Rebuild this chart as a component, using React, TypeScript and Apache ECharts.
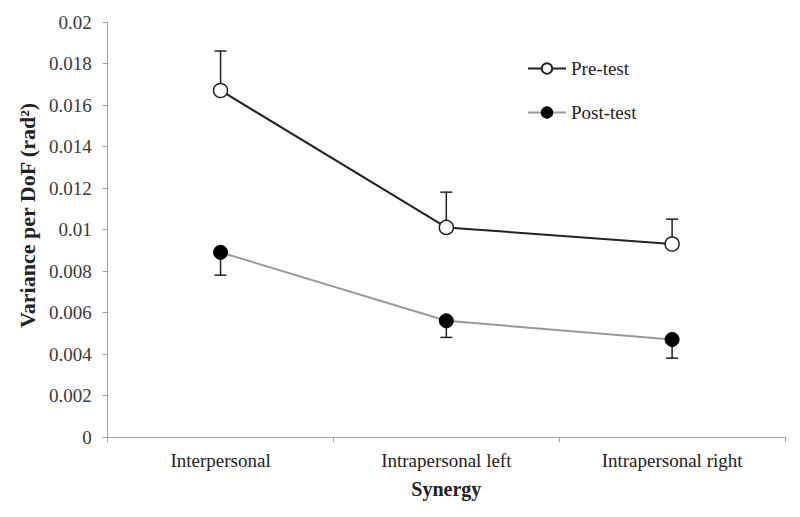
import React, { useEffect, useRef } from "react";
import * as echarts from "echarts";

const categories = ["Interpersonal", "Intrapersonal left", "Intrapersonal right"];
const preTest = [0.0167, 0.0101, 0.0093];
const preTestErrTop = [0.0186, 0.0118, 0.0105];
const postTest = [0.0089, 0.0056, 0.0047];
const postTestErrBottom = [0.0078, 0.0048, 0.0038];

const FONT = "Liberation Serif";

function errorRender(params: any, api: any) {
  const x = api.value(0);
  const from = api.value(1);
  const to = api.value(2);
  const p1 = api.coord([x, from]);
  const p2 = api.coord([x, to]);
  const half = 6;
  const style = { stroke: "#222", lineWidth: 1.5 };
  return {
    type: "group",
    children: [
      { type: "line", shape: { x1: p1[0], y1: p1[1], x2: p2[0], y2: p2[1] }, style },
      { type: "line", shape: { x1: p2[0] - half, y1: p2[1], x2: p2[0] + half, y2: p2[1] }, style },
    ],
  };
}

export default function App() {
  const ref = useRef<HTMLDivElement>(null);
  useEffect(() => {
    if (!ref.current) return;
    const chart = echarts.init(ref.current, null, { renderer: "svg" });
    chart.setOption({
      animation: false,
      backgroundColor: "#fff",
      grid: { left: 99, right: 7, top: 14, bottom: 72 },
      legend: {
        orient: "vertical",
        left: 514,
        top: 46,
        itemGap: 25,
        itemWidth: 38,
        itemHeight: 13,
        textStyle: { fontFamily: FONT, fontSize: 19, color: "#222" },
        data: ["Pre-test", "Post-test"],
      },
      xAxis: {
        type: "category",
        data: categories,
        boundaryGap: true,
        name: "Synergy",
        nameLocation: "middle",
        nameGap: 42,
        nameTextStyle: { fontFamily: FONT, fontSize: 20, fontWeight: "bold", color: "#222" },
        axisLine: { lineStyle: { color: "#a0a0a0", width: 1 } },
        axisTick: { show: true, length: 5, lineStyle: { color: "#a0a0a0" } },
        axisLabel: { fontFamily: FONT, fontSize: 19, color: "#222", margin: 14 },
      },
      yAxis: {
        type: "value",
        min: 0,
        max: 0.02,
        interval: 0.002,
        name: "Variance per DoF (rad²)",
        nameLocation: "middle",
        nameGap: 69,
        nameTextStyle: {
          fontFamily: FONT,
          fontSize: 22,
          fontWeight: "bold",
          color: "#222",
          padding: [0, 0, 0, 28],
        },
        axisLine: { show: true, lineStyle: { color: "#a0a0a0", width: 1 } },
        axisTick: { show: true, length: 5, lineStyle: { color: "#a0a0a0" } },
        splitLine: { show: false },
        axisLabel: {
          fontFamily: FONT,
          fontSize: 19,
          color: "#3a3a3a",
          margin: 16,
          formatter: (v: number) => String(parseFloat(v.toFixed(4))),
        },
      },
      series: [
        {
          type: "custom",
          renderItem: errorRender,
          data: categories.map((_, i) => [i, preTest[i], preTestErrTop[i]]),
          z: 1,
          silent: true,
        },
        {
          type: "custom",
          renderItem: errorRender,
          data: categories.map((_, i) => [i, postTest[i], postTestErrBottom[i]]),
          z: 1,
          silent: true,
        },
        {
          name: "Pre-test",
          type: "line",
          data: preTest,
          symbol: "circle",
          symbolSize: 14,
          lineStyle: { color: "#222", width: 2 },
          itemStyle: { color: "#fff", borderColor: "#222", borderWidth: 1.5 },
          z: 3,
        },
        {
          name: "Post-test",
          type: "line",
          data: postTest,
          symbol: "circle",
          symbolSize: 14,
          lineStyle: { color: "#999", width: 2 },
          itemStyle: { color: "#000", borderColor: "#000", borderWidth: 1 },
          z: 3,
        },
      ],
    });
    return () => chart.dispose();
  }, []);
  return <div ref={ref} style={{ width: 784, height: 501 }} />;
}
